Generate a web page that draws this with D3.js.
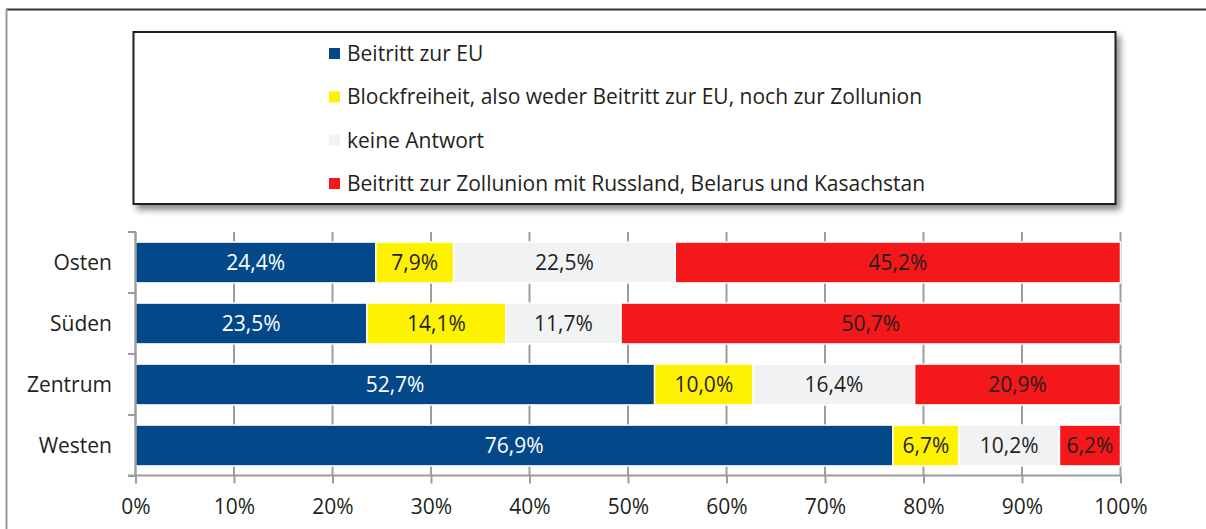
<!DOCTYPE html>
<html lang="de">
<head>
    <meta charset="UTF-8">
    <title>Beitritt zur EU oder Zollunion nach Region</title>
    <script src="https://cdnjs.cloudflare.com/ajax/libs/d3/7.8.5/d3.min.js"></script>
    <style>
        body {
            margin: 0;
            padding: 0;
            background-color: #ffffff;
            font-family: "Open Sans", Arial, sans-serif;
        }
        svg { display: block; }
    </style>
</head>
<body>
    <div id="chart"></div>

    <script>
        // Data
        const regions = ["Osten", "Süden", "Zentrum", "Westen"];
        const seriesNames = [
            "Beitritt zur EU",
            "Blockfreiheit, also weder Beitritt zur EU, noch zur Zollunion",
            "keine Antwort",
            "Beitritt zur Zollunion mit Russland, Belarus und Kasachstan"
        ];
        const euValues = [24.4, 23.5, 52.7, 76.9];
        const neutralValues = [7.9, 14.1, 10.0, 6.7];
        const noAnswerValues = [22.5, 11.7, 16.4, 10.2];
        const customsValues = [45.2, 50.7, 20.9, 6.2];
        const tickValues = [0, 10, 20, 30, 40, 50, 60, 70, 80, 90, 100];

        const colors = ["#03498a", "#fff200", "#f1f2f4", "#f5181a"];
        const labelColors = ["#ffffff", "#231f20", "#231f20", "#231f20"];

        const width = 1206;
        const height = 529;
        const fontSize = 21;

        const svg = d3.select("#chart")
            .append("svg")
            .attr("width", width)
            .attr("height", height);

        // drop shadow for legend box
        const defs = svg.append("defs");
        defs.append("filter")
            .attr("id", "shadow")
            .attr("x", "-5%").attr("y", "-20%")
            .attr("width", "115%").attr("height", "150%")
            .append("feDropShadow")
            .attr("dx", 4).attr("dy", 5)
            .attr("stdDeviation", 3)
            .attr("flood-color", "#000")
            .attr("flood-opacity", 0.45);

        // outer frame
        svg.append("line")
            .attr("x1", 6).attr("x2", width)
            .attr("y1", 9.5).attr("y2", 9.5)
            .attr("stroke", "#333").attr("stroke-width", 2);
        svg.append("line")
            .attr("x1", 6.5).attr("x2", 6.5)
            .attr("y1", 9).attr("y2", height)
            .attr("stroke", "#999").attr("stroke-width", 2);

        // legend
        const legend = svg.append("g");
        legend.append("rect")
            .attr("x", 133.5).attr("y", 32)
            .attr("width", 982).attr("height", 172)
            .attr("fill", "#fff")
            .attr("stroke", "#231f20")
            .attr("stroke-width", 2)
            .attr("filter", "url(#shadow)");

        const legendY = d3.scalePoint()
            .domain(seriesNames)
            .range([53.5, 183.5]);

        const item = legend.selectAll("g.item")
            .data(seriesNames)
            .join("g")
            .attr("class", "item")
            .attr("transform", d => `translate(0,${legendY(d)})`);
        item.append("rect")
            .attr("x", 329).attr("y", -5.5)
            .attr("width", 11).attr("height", 11)
            .attr("fill", (d, i) => colors[i]);
        item.append("text")
            .attr("x", 347).attr("y", 7.5)
            .attr("font-size", fontSize)
            .attr("fill", "#231f20")
            .text(d => d);

        // scales
        const x = d3.scaleLinear().domain([0, 100]).range([135.5, 1120.5]);
        const y = d3.scaleBand()
            .domain(regions)
            .range([232, 476])
            .paddingInner(0.33)
            .paddingOuter(0.165);

        // gridlines
        svg.append("g")
            .selectAll("line")
            .data(tickValues)
            .join("line")
            .attr("x1", d => x(d)).attr("x2", d => x(d))
            .attr("y1", 232).attr("y2", 476)
            .attr("stroke", "#9d9d9d")
            .attr("stroke-width", 2);

        // stacked bars
        const allSeries = [euValues, neutralValues, noAnswerValues, customsValues];
        const rows = regions.map((r, i) => {
            let acc = 0;
            return allSeries.map((vals, s) => {
                const seg = { region: r, s: s, v: vals[i], x0: acc, x1: acc + vals[i] };
                acc += vals[i];
                return seg;
            });
        }).flat();

        svg.append("g")
            .selectAll("rect")
            .data(rows)
            .join("rect")
            .attr("x", d => x(d.x0))
            .attr("y", d => y(d.region))
            .attr("width", d => x(d.x1) - x(d.x0))
            .attr("height", y.bandwidth())
            .attr("fill", d => colors[d.s])
            .attr("stroke", "#ffffff")
            .attr("stroke-width", 1.5);

        svg.append("g")
            .selectAll("text")
            .data(rows)
            .join("text")
            .attr("x", d => (x(d.x0) + x(d.x1)) / 2)
            .attr("y", d => y(d.region) + y.bandwidth() / 2 + 7.5)
            .attr("text-anchor", "middle")
            .attr("font-size", fontSize)
            .attr("fill", d => labelColors[d.s])
            .text(d => d.v.toFixed(1).replace(".", ",") + "%");

        // y axis
        const yAxis = svg.append("g");
        yAxis.append("line")
            .attr("x1", 135.5).attr("x2", 135.5)
            .attr("y1", 232).attr("y2", 476)
            .attr("stroke", "#9d9d9d").attr("stroke-width", 2);
        const boundaries = regions.map(r => y(r) - y.step() * y.paddingInner() / 2).concat([476]);
        boundaries[0] = 232;
        yAxis.selectAll("line.tick")
            .data(boundaries)
            .join("line")
            .attr("class", "tick")
            .attr("x1", 128).attr("x2", 136)
            .attr("y1", d => d).attr("y2", d => d)
            .attr("stroke", "#9d9d9d").attr("stroke-width", 2);
        yAxis.selectAll("text")
            .data(regions)
            .join("text")
            .attr("x", 112)
            .attr("y", d => y(d) + y.bandwidth() / 2 + 7.5)
            .attr("text-anchor", "end")
            .attr("font-size", fontSize)
            .attr("fill", "#231f20")
            .text(d => d);

        // x axis
        svg.append("line")
            .attr("x1", 128).attr("x2", 1120.5)
            .attr("y1", 475.5).attr("y2", 475.5)
            .attr("stroke", "#9d9d9d").attr("stroke-width", 2);

        const xAxis = svg.append("g")
            .attr("transform", "translate(0,475.5)")
            .call(d3.axisBottom(x)
                .tickValues(tickValues)
                .tickFormat(d => d + "%")
                .tickSize(8)
                .tickPadding(16));
        xAxis.select(".domain").remove();
        xAxis.selectAll(".tick line")
            .attr("stroke", "#9d9d9d")
            .attr("stroke-width", 2);
        xAxis.selectAll(".tick text")
            .attr("font-family", "'Open Sans', Arial, sans-serif")
            .attr("font-size", fontSize)
            .attr("fill", "#231f20");
    </script>
</body>
</html>
